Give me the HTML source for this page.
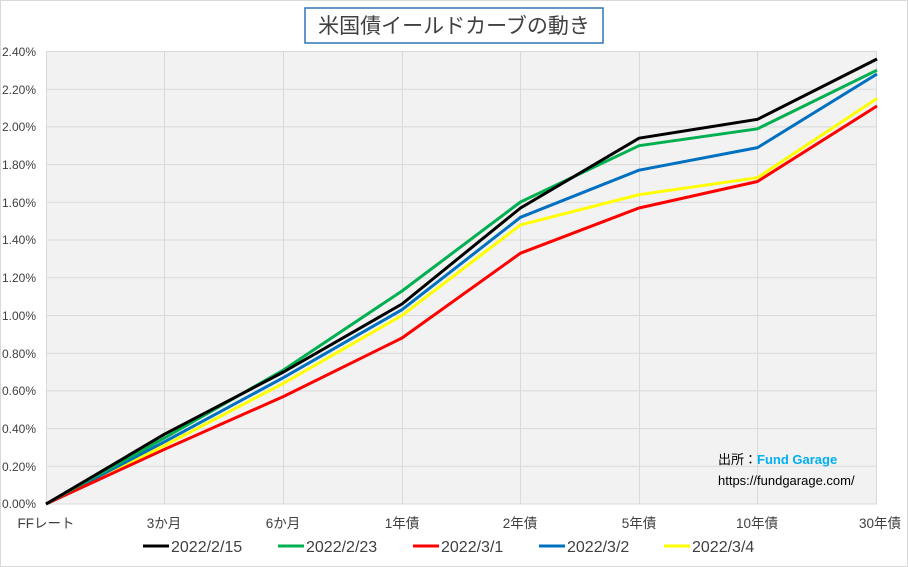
<!DOCTYPE html>
<html><head><meta charset="utf-8"><style>
html,body{margin:0;padding:0;background:#fff}
svg{display:block}
text{font-family:"Liberation Sans","Noto Sans CJK JP",sans-serif}
</style></head><body>
<svg width="908" height="567" xmlns="http://www.w3.org/2000/svg">
<rect x="0.5" y="0.5" width="907" height="566" fill="#fff" stroke="#d9d9d9"/>
<rect x="305" y="8" width="298" height="35" fill="#fff" stroke="#2e75b6" stroke-width="1.5"/>
<text x="454" y="33" font-size="21" text-anchor="middle" fill="#404040">米国債イールドカーブの動き</text>
<rect x="46" y="51.5" width="831" height="452.5" fill="#f2f2f2"/>
<g stroke="#d9d9d9" stroke-width="1">
<line x1="46" x2="877" y1="51.5" y2="51.5"/><line x1="46" x2="877" y1="89.2" y2="89.2"/><line x1="46" x2="877" y1="126.9" y2="126.9"/><line x1="46" x2="877" y1="164.6" y2="164.6"/><line x1="46" x2="877" y1="202.3" y2="202.3"/><line x1="46" x2="877" y1="240" y2="240"/><line x1="46" x2="877" y1="277.8" y2="277.8"/><line x1="46" x2="877" y1="315.5" y2="315.5"/><line x1="46" x2="877" y1="353.2" y2="353.2"/><line x1="46" x2="877" y1="390.9" y2="390.9"/><line x1="46" x2="877" y1="428.6" y2="428.6"/><line x1="46" x2="877" y1="466.3" y2="466.3"/><line x1="46" x2="877" y1="504" y2="504"/>
<line x1="46.5" x2="46.5" y1="51.5" y2="504"/><line x1="164.5" x2="164.5" y1="51.5" y2="504"/><line x1="283.5" x2="283.5" y1="51.5" y2="504"/><line x1="402.5" x2="402.5" y1="51.5" y2="504"/><line x1="520.5" x2="520.5" y1="51.5" y2="504"/><line x1="639.5" x2="639.5" y1="51.5" y2="504"/><line x1="757.5" x2="757.5" y1="51.5" y2="504"/><line x1="876.5" x2="876.5" y1="51.5" y2="504"/>
</g>
<g font-size="12" fill="#404040" text-anchor="end">
<text x="36" y="56">2.40%</text><text x="36" y="94">2.20%</text><text x="36" y="131">2.00%</text><text x="36" y="169">1.80%</text><text x="36" y="207">1.60%</text><text x="36" y="244">1.40%</text><text x="36" y="282">1.20%</text><text x="36" y="320">1.00%</text><text x="36" y="358">0.80%</text><text x="36" y="395">0.60%</text><text x="36" y="433">0.40%</text><text x="36" y="471">0.20%</text><text x="36" y="508">0.00%</text>
</g>
<g font-size="13.5" fill="#404040" text-anchor="middle">
<text x="46" y="528">FFレート</text><text x="164" y="528">3か月</text><text x="283" y="528">6か月</text><text x="402" y="528">1年債</text><text x="520" y="528">2年債</text><text x="639" y="528">5年債</text><text x="757" y="528">10年債</text><text x="880" y="528">30年債</text>
</g>
<g fill="none" stroke-width="3" stroke-linejoin="round">
<polyline stroke="#ffff00" points="46,504 164.5,445.5 283.5,383.3 402,315.4 520.5,224.9 639,194.7 757.5,177.7 877,98.5"/>
<polyline stroke="#0070c0" points="46,504 164.5,441.8 283.5,377.6 402,309.7 520.5,217.3 639,170.2 757.5,147.6 877,74"/>
<polyline stroke="#ff0000" points="46,504 164.5,449.3 283.5,396.5 402,338 520.5,253.2 639,208 757.5,181.5 877,106"/>
<polyline stroke="#00b050" points="46,504 164.5,438 283.5,370 402,291 520.5,202 639,145.7 757.5,128.8 877,70.2"/>
<polyline stroke="#000000" points="46,504 164.5,434.2 283.5,372 402,304 520.5,208 639,138.2 757.5,119.3 877,59"/>
</g>
<text x="718" y="464" font-size="13" fill="#000">出所：<tspan fill="#00b0f0" font-weight="bold">Fund Garage</tspan></text>
<text x="718" y="485" font-size="13" fill="#000">https://fundgarage.com/</text>
<g font-size="16" fill="#404040">
<line x1="143" x2="169" y1="546" y2="546" stroke="#000" stroke-width="3"/><text x="171" y="552">2022/2/15</text>
<line x1="278" x2="304" y1="546" y2="546" stroke="#00b050" stroke-width="3"/><text x="306" y="552">2022/2/23</text>
<line x1="413" x2="439" y1="546" y2="546" stroke="#ff0000" stroke-width="3"/><text x="441" y="552">2022/3/1</text>
<line x1="539" x2="565" y1="546" y2="546" stroke="#0070c0" stroke-width="3"/><text x="567" y="552">2022/3/2</text>
<line x1="664" x2="690" y1="546" y2="546" stroke="#ffff00" stroke-width="3"/><text x="692" y="552">2022/3/4</text>
</g>
</svg>
</body></html>
